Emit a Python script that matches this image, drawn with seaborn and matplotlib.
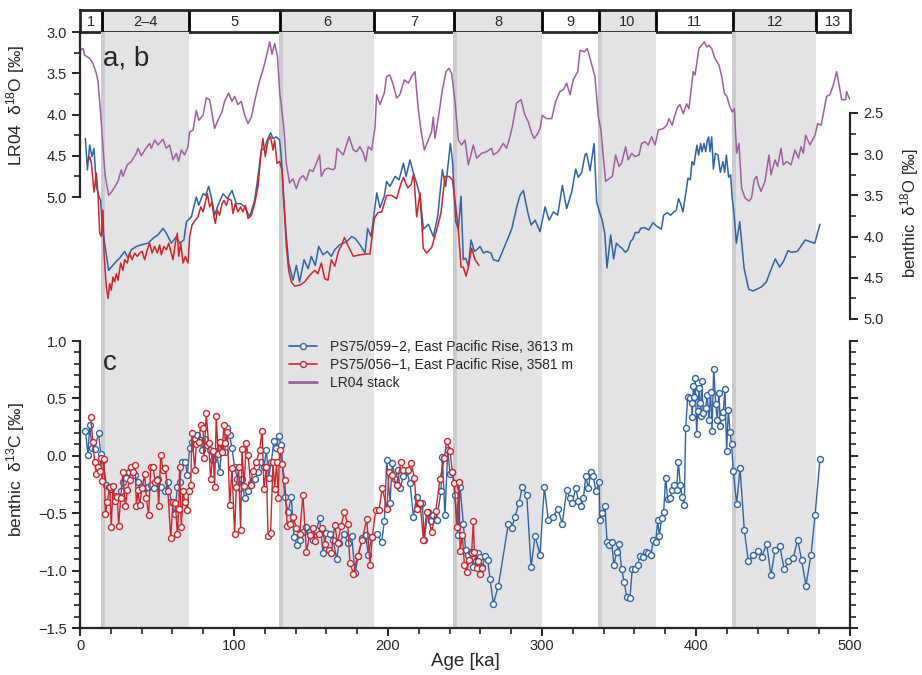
import numpy as np
import seaborn as sns
import matplotlib.pyplot as plt
from matplotlib.lines import Line2D

sns.set_style('ticks')
plt.rcParams['font.family'] = ['Liberation Sans', 'DejaVu Sans']
plt.rcParams['mathtext.fontset'] = 'custom'
plt.rcParams['mathtext.rm'] = 'Liberation Sans'
plt.rcParams['mathtext.it'] = 'Liberation Sans:italic'

# marine isotope stages
mis_bounds = [0, 14, 71, 130, 191, 243, 300, 337, 374, 424, 478, 500]
mis_labels = ['1', '2\u20134', '5', '6', '7', '8', '9', '10', '11', '12', '13']
mis_glacial = [False, True, False, True, False, True, False, True, False, True, False]

# LR04 stack (left axis, upper panel)
lr04_age = [0, 2, 3, 6.3, 8.4, 10.6, 11.7, 13.4, 15, 16.4, 18.6, 20.4, 22.5, 24.7, 26.8, 27.9, 30.7, 33.3,
            36.6, 37.7, 39.8, 42, 45.2, 46.3, 48.5, 50.6, 53.9, 56, 58.2, 60.4, 62.6, 64, 65.8, 67.9, 70.1,
            71.2, 73.4, 75.5, 77.1, 79.9, 82, 84.2, 87.4, 89.6, 92.2, 93.9, 96.5, 98.7, 100.4, 102.6, 104.7,
            107, 109.1, 111.3, 113.4, 116.7, 118.8, 121, 123.2, 124.7, 126.4, 128.2, 129.7, 130.7, 132.5,
            133.9, 136.1, 138.3, 140.5, 142.6, 144.8, 146.9, 149.1, 151.3, 153.5, 155.6, 156.7, 158.9, 161,
            164.3, 165.6, 167, 171, 174.7, 177.5, 179.6, 181.8, 184, 185.5, 187.2, 189.4, 191.6, 192.6,
            194.8, 197.6, 199.1, 201.2, 203.4, 205.6, 207.7, 210.6, 213.2, 215.3, 217.5, 219.7, 221.4,
            223.6, 226.2, 228.3, 229.4, 230.5, 233.1, 235.3, 237.7, 239.6, 241.3, 243.5, 245.7, 247.8, 250,
            252.2, 255.4, 257.6, 260.8, 264.1, 267.3, 268.4, 271.6, 274.9, 277, 279.2, 280.7, 283.5, 286.4,
            289, 291.1, 293.3, 295, 297.2, 298.7, 300.2, 303, 306.3, 308.9, 311.7, 313.9, 316, 318.2, 320.3,
            323.2, 324.7, 327.5, 329.4, 331.8, 334.4, 336.6, 338.3, 339.8, 341.3, 344.2, 345.7, 347.8, 350,
            351.7, 353.5, 354.3, 356, 358.2, 360.4, 363, 364.7, 366.9, 369, 371.2, 373.4, 375.5, 378.8, 381,
            382.5, 384.6, 385.9, 388.1, 389.6, 391.7, 393.9, 395.4, 396.7, 398.2, 399.4, 401.9, 403.7,
            405.4, 407, 408.4, 410.2, 412.3, 414.9, 416.7, 418.4, 420, 422.1, 423.6, 424.9, 426.4, 427.9,
            429.6, 431.8, 434.4, 436.1, 437.8, 439.4, 440.5, 442.2, 444.8, 447.4, 448.7, 451.3, 453, 455.2,
            456.7, 458.9, 461.7, 464.3, 466.5, 468.2, 469.7, 471.2, 474, 477.3, 479, 481.2, 482.7, 484.8,
            487, 489.2, 491.3, 492.9, 494.6, 497.2, 497.8, 499, 500]
lr04_d18o = [3.22, 3.20, 3.28, 3.32, 3.38, 3.50, 3.60, 3.99, 4.43, 4.75, 4.98, 4.94, 4.88, 4.81, 4.67, 4.75, 4.61,
             4.57, 4.47, 4.41, 4.50, 4.43, 4.35, 4.41, 4.31, 4.37, 4.30, 4.41, 4.37, 4.55, 4.47, 4.57, 4.43,
             4.49, 4.39, 4.21, 4.19, 3.95, 4.07, 4.01, 3.80, 3.82, 4.17, 4.07, 3.97, 3.84, 3.74, 3.84, 3.78,
             3.88, 3.84, 4.01, 4.11, 4.03, 3.84, 3.58, 3.46, 3.30, 3.12, 3.27, 3.14, 3.29, 3.74, 3.88, 4.19,
             4.59, 4.83, 4.78, 4.90, 4.78, 4.74, 4.80, 4.67, 4.69, 4.59, 4.49, 4.75, 4.67, 4.65, 4.67, 4.65,
             4.41, 4.49, 4.27, 4.43, 4.45, 4.39, 4.47, 4.57, 4.39, 4.43, 4.15, 3.76, 3.88, 3.74, 3.54, 3.52,
             3.64, 3.80, 3.76, 3.58, 3.62, 3.54, 3.48, 3.94, 4.19, 4.43, 4.31, 4.21, 4.03, 4.29, 3.99, 3.70,
             3.48, 3.44, 3.50, 3.84, 4.31, 4.37, 4.31, 4.61, 4.37, 4.53, 4.47, 4.45, 4.41, 4.49, 4.45, 4.35,
             4.41, 4.27, 4.15, 3.86, 3.82, 4.01, 4.09, 4.23, 4.29, 4.23, 4.17, 4.01, 4.05, 4.05, 3.84, 3.72,
             3.70, 3.62, 3.76, 3.58, 3.48, 3.22, 3.24, 3.20, 3.36, 3.54, 4.03, 4.19, 4.51, 4.81, 4.77, 4.75,
             4.49, 4.63, 4.59, 4.45, 4.39, 4.55, 4.47, 4.51, 4.49, 4.35, 4.33, 4.37, 4.27, 4.37, 4.19, 4.17,
             4.13, 4.05, 4.13, 4.03, 3.91, 3.88, 3.99, 3.87, 3.93, 3.72, 3.48, 3.52, 3.20, 3.16, 3.12, 3.18,
             3.16, 3.20, 3.32, 3.40, 3.54, 3.74, 3.78, 3.91, 3.97, 3.93, 4.47, 4.35, 4.89, 5.01, 5.05, 5.01,
             4.79, 4.75, 4.85, 4.93, 4.81, 4.49, 4.73, 4.55, 4.63, 4.41, 4.61, 4.57, 4.61, 4.43, 4.53, 4.39,
             4.47, 4.25, 4.37, 4.25, 4.11, 4.13, 3.99, 3.78, 3.76, 3.64, 3.48, 3.64, 3.82, 3.82, 3.72, 3.78,
             3.82]

# benthic d18O PS75/059-2 (right axis, upper panel)
b059_age = [3.5, 4.8, 6.3, 7.8, 9.1, 10.6, 12.1, 13.4, 14.3, 16.0, 18.6, 20.3, 23.6, 25.8, 29.0, 31.2, 33.3,
            36.6, 39.8, 44.2, 47.4, 50.6, 53.9, 56.1, 59.3, 62.6, 64.7, 67.5, 69.1, 72.3, 75.5, 77.1, 79.9,
            81.6, 83.5, 85.3, 87.4, 89.6, 92.9, 95.7, 98.7, 101.5, 104.3, 106.9, 110.2, 113.4, 115.6, 117.7,
            119.9, 121.6, 123.8, 125.3, 127.5, 129.6, 130.7, 132.5, 134.0, 135.5, 138.3, 140.5, 142.6,
            145.5, 148.1, 150.2, 152.8, 155.0, 157.8, 160.6, 163.2, 165.4, 168.6, 171.0, 173.2, 176.4,
            178.6, 181.8, 185.1, 186.8, 189.0, 191.1, 192.7, 194.8, 197.6, 199.1, 201.3, 204.6, 207.2,
            210.0, 211.7, 214.3, 216.5, 218.6, 220.8, 223.0, 226.2, 229.5, 232.3, 235.3, 237.5, 240.5,
            241.8, 244.0, 245.7, 247.4, 248.9, 250.4, 252.2, 253.9, 256.1, 257.6, 259.8, 261.9, 264.1,
            266.9, 268.4, 271.7, 280.3, 283.6, 285.7, 287.9, 290.7, 292.9, 295.5, 298.7, 302.0, 304.6,
            307.4, 310.2, 313.2, 316.0, 319.3, 321.9, 323.6, 325.8, 327.9, 329.0, 331.2, 333.8, 335.5,
            337.5, 339.1, 340.8, 342.2, 344.6, 346.5, 348.3, 350.4, 351.9, 354.1, 355.8, 357.5, 359.0,
            360.6, 362.8, 364.1, 366.7, 369.3, 372.1, 374.2, 377.5, 379.0, 381.4, 383.5, 385.7, 387.2,
            388.7, 390.0, 391.5, 393.0, 394.8, 396.3, 397.4, 398.7, 399.6, 400.6, 401.7, 403.0, 403.9,
            405.2, 406.3, 407.4, 408.2, 409.1, 410.2, 411.3, 412.5, 414.3, 415.8, 417.5, 418.6, 419.7,
            421.2, 422.5, 423.4, 424.7, 426.2, 428.4, 431.2, 434.2, 437.0, 442.5, 445.7, 448.5, 451.5,
            454.3, 457.1, 459.7, 461.9, 465.8, 468.4, 471.0, 473.8, 477.1, 480.5]
b059_d18o = [2.81, 3.19, 2.89, 3.03, 2.93, 3.39, 3.50, 3.56, 3.84, 4.08, 4.41, 4.37, 4.30, 4.26, 4.18, 4.26,
             4.16, 4.12, 4.10, 4.08, 4.02, 3.98, 3.90, 3.96, 4.08, 4.00, 4.08, 4.04, 3.82, 3.76, 3.52, 3.62,
             3.48, 3.50, 3.39, 3.52, 3.74, 3.62, 3.48, 3.54, 3.44, 3.60, 3.60, 3.64, 3.76, 3.56, 3.27, 2.95,
             2.93, 2.83, 2.74, 2.81, 2.79, 2.83, 3.03, 3.60, 4.00, 4.32, 4.53, 4.35, 4.55, 4.28, 4.39, 4.24,
             4.35, 4.12, 4.22, 4.18, 4.24, 4.16, 4.10, 4.08, 4.06, 4.00, 4.02, 4.10, 4.20, 3.90, 4.00, 3.70,
             3.47, 3.65, 3.51, 3.33, 3.39, 3.27, 3.31, 3.11, 3.27, 3.07, 3.23, 3.35, 3.51, 3.91, 3.85, 4.00,
             3.75, 3.19, 3.39, 2.87, 3.07, 3.82, 3.91, 3.51, 4.28, 4.26, 4.36, 4.04, 4.18, 4.16, 4.12, 4.20,
             4.18, 4.20, 4.28, 4.30, 3.91, 3.64, 3.50, 3.44, 3.70, 3.86, 3.80, 3.94, 3.64, 3.80, 3.70, 3.74,
             3.38, 3.66, 3.46, 3.18, 3.28, 3.22, 3.01, 2.99, 3.20, 2.87, 3.58, 3.71, 3.80, 3.97, 4.38, 3.98,
             4.27, 4.08, 4.12, 4.14, 4.19, 4.16, 4.06, 4.03, 3.95, 3.95, 3.90, 3.89, 3.92, 3.83, 3.87, 3.91,
             3.74, 3.71, 3.74, 3.70, 3.68, 3.54, 3.60, 3.70, 3.52, 3.29, 3.31, 3.09, 3.13, 3.01, 2.89, 3.01,
             2.87, 2.97, 2.87, 2.97, 2.83, 2.79, 2.97, 2.79, 3.18, 2.99, 3.01, 3.22, 3.09, 3.22, 3.01, 3.28,
             3.25, 3.52, 3.72, 4.08, 3.82, 4.38, 4.64, 4.66, 4.61, 4.55, 4.41, 4.27, 4.37, 4.29, 4.17, 4.19,
             4.18, 4.11, 4.04, 4.06, 4.08, 3.85]

# benthic d18O PS75/056-1 (right axis, upper panel)
b056_age = [4.8, 6.3, 7.4, 9.1, 10.6, 11.7, 12.8, 13.9, 14.9, 15.6, 17.1, 18.2, 19.3, 20.3, 21.4, 22.5, 23.6,
            24.7, 26.4, 27.9, 29.0, 30.7, 32.2, 33.8, 35.5, 37.2, 38.7, 40.3, 42.0, 43.7, 45.2, 46.8, 48.5,
            50.2, 51.7, 52.8, 54.5, 56.1, 57.6, 59.3, 60.4, 61.9, 63.2, 64.1, 65.4, 66.9, 68.4, 70.1, 71.2,
            72.7, 74.9, 76.6, 78.4, 79.9, 81.4, 82.7, 84.2, 85.7, 87.0, 87.9, 89.2, 90.7, 92.2, 93.5, 95.0,
            96.5, 98.3, 99.3, 100.9, 102.6, 104.3, 105.8, 107.4, 109.1, 111.3, 113.4, 115.6, 117.3, 118.8,
            120.3, 122.1, 123.8, 125.3, 126.4, 127.9, 129.6, 131.2, 132.9, 134.0, 135.5, 137.2, 139.4,
            142.6, 145.9, 149.1, 152.4, 154.5, 156.7, 158.9, 161.0, 163.2, 165.4, 167.8, 169.5, 171.7,
            173.8, 177.5, 181.8, 187.2, 188.3, 191.1, 193.3, 195.9, 199.1, 202.4, 205.6, 208.5, 210.0,
            212.8, 215.0, 216.7, 218.6, 220.8, 222.9, 225.1, 228.4, 231.6, 234.4, 237.0, 239.6, 241.8,
            244.0, 245.7, 247.4, 248.9, 250.7, 252.2, 254.3, 256.5, 259.1]
b056_d18o = [3.09, 3.03, 3.11, 3.46, 3.23, 3.48, 3.96, 4.00, 3.68, 4.20, 4.61, 4.75, 4.57, 4.65, 4.49, 4.55,
             4.45, 4.53, 4.32, 4.41, 4.28, 4.32, 4.20, 4.28, 4.20, 4.24, 4.20, 4.18, 4.28, 4.16, 4.08, 4.20,
             4.12, 4.20, 4.10, 4.22, 4.12, 4.16, 4.08, 4.20, 4.28, 4.08, 3.96, 4.24, 4.08, 4.32, 4.24, 4.32,
             4.00, 3.86, 3.80, 3.76, 3.64, 3.70, 3.58, 3.48, 3.64, 3.58, 3.76, 3.84, 3.68, 3.74, 3.60, 3.56,
             3.62, 3.54, 3.56, 3.72, 3.60, 3.70, 3.64, 3.70, 3.62, 3.78, 3.74, 3.60, 3.39, 3.03, 2.81, 3.03,
             2.83, 2.79, 2.95, 2.83, 3.11, 3.09, 3.19, 3.76, 4.12, 4.41, 4.55, 4.60, 4.59, 4.55, 4.47, 4.41,
             4.45, 4.32, 4.51, 4.53, 4.28, 4.36, 4.18, 4.12, 4.01, 4.10, 4.24, 4.22, 4.21, 4.21, 3.78, 3.71,
             3.70, 3.50, 3.50, 3.54, 3.35, 3.28, 3.41, 3.37, 3.24, 3.76, 3.47, 4.14, 4.20, 4.13, 3.92, 3.71,
             3.27, 3.27, 3.31, 3.64, 3.92, 4.37, 4.37, 4.48, 4.37, 4.14, 4.28, 4.35]

# benthic d13C PS75/059-2 (lower panel)
c059_age = [3.5, 5.2, 6.3, 7.8, 9.5, 12.1, 13.4, 14.9, 17.1, 18.6, 20.3, 22.5, 24.7, 26.4, 27.9, 30.1, 31.6,
            33.3, 35.5, 37.7, 39.8, 42.0, 44.2, 46.3, 48.1, 50.6, 52.8, 55.0, 57.1, 59.3, 61.5, 63.2, 64.7,
            66.2, 68.4, 69.7, 71.2, 72.7, 74.9, 76.2, 77.7, 79.2, 81.0, 82.7, 84.2, 86.4, 88.5, 90.7, 92.2,
            93.9, 95.7, 97.2, 98.7, 100.4, 102.2, 103.7, 105.2, 106.9, 109.1, 111.3, 113.4, 115.6, 117.7,
            119.5, 121.0, 122.5, 124.2, 126.0, 127.5, 129.0, 130.7, 132.9, 135.1, 137.2, 139.0, 141.1,
            142.6, 144.8, 147.0, 149.1, 151.3, 153.5, 155.6, 157.8, 160.0, 162.1, 164.3, 166.7, 168.2,
            171.7, 173.8, 176.4, 178.6, 180.8, 183.3, 185.5, 187.2, 189.4, 192.7, 195.9, 197.6, 199.2,
            201.3, 202.8, 204.6, 206.3, 207.8, 210.0, 212.1, 214.3, 216.5, 218.6, 220.8, 222.3, 223.6,
            225.8, 227.9, 229.5, 231.6, 234.4, 235.3, 237.0, 238.8, 240.3, 241.8, 243.5, 245.3, 246.8,
            248.9, 250.4, 252.2, 253.9, 255.4, 256.9, 258.2, 259.8, 261.3, 263.0, 264.7, 266.3, 268.4,
            271.7, 278.2, 280.3, 282.5, 285.1, 287.2, 290.1, 292.9, 295.5, 298.7, 301.5, 304.1, 307.4,
            310.2, 313.2, 316.0, 318.2, 319.7, 321.9, 323.6, 325.3, 326.9, 328.4, 330.1, 331.8, 333.4,
            334.9, 337.0, 337.7, 339.2, 340.9, 342.2, 343.5, 345.2, 346.7, 348.5, 350.0, 351.7, 353.4,
            355.0, 357.1, 358.6, 360.4, 362.1, 363.6, 365.8, 367.3, 369.0, 370.8, 372.3, 373.8, 375.1,
            376.2, 377.7, 379.0, 380.3, 381.6, 383.1, 384.6, 385.9, 387.4, 388.5, 389.8, 391.1, 392.4,
            393.3, 394.6, 396.1, 397.2, 397.6, 398.3, 398.9, 399.5, 400.4, 401.1, 401.9, 402.6, 403.2,
            403.7, 404.7, 406.3, 407.3, 408.4, 409.5, 410.4, 411.5, 412.8, 413.8, 414.9, 415.8, 416.7,
            417.7, 418.8, 419.9, 421.0, 422.1, 423.1, 424.2, 426.4, 428.6, 431.4, 434.0, 437.2, 440.0,
            442.6, 445.9, 448.7, 451.3, 454.5, 457.3, 460.0, 463.2, 466.0, 468.6, 471.4, 474.7, 477.3,
            480.5]
c059_d13c = [0.22, 0.01, 0.27, 0.065, 0.06, 0.20, 0.02, -0.04, -0.25, -0.27, -0.29, -0.35, -0.36, -0.31,
             -0.23, -0.19, -0.14, -0.11, -0.17, -0.23, -0.27, -0.28, -0.27, -0.25, -0.28, -0.20, -0.27,
             -0.31, -0.23, -0.40, -0.51, -0.27, -0.23, -0.05, -0.05, -0.17, 0.07, 0.12, 0.15, 0.18, 0.14,
             0.05, 0.15, 0.09, 0.05, -0.04, 0.04, -0.14, 0.11, 0.03, 0.24, 0.18, 0.065, -0.10, -0.20, -0.28,
             -0.20, -0.37, -0.31, -0.24, -0.20, -0.14, -0.05, -0.10, 0.05, -0.19, -0.05, 0.13, 0.065, 0.175,
             0.09, -0.36, -0.49, -0.36, -0.71, -0.78, -0.73, -0.66, -0.62, -0.66, -0.73, -0.65, -0.54,
             -0.85, -0.67, -0.68, -0.73, -0.90, -0.76, -0.68, -0.76, -0.70, -1.02, -0.87, -0.72, -0.69,
             -0.86, -0.71, -0.68, -0.75, -0.57, -0.04, -0.41, -0.06, -0.20, -0.12, -0.28, -0.18, -0.13,
             -0.24, -0.53, -0.36, -0.43, -0.41, -0.73, -0.49, -0.57, -0.52, -0.56, -0.31, -0.01, -0.52,
             0.05, -0.16, -0.14, -0.34, -0.69, -0.27, -0.59, -0.82, -0.86, -0.84, -0.97, -0.92, -0.85,
             -0.88, -0.97, -0.87, -0.91, -1.07, -1.29, -1.13, -0.59, -0.63, -0.53, -0.41, -0.27, -0.34,
             -0.97, -0.70, -0.86, -0.27, -0.56, -0.53, -0.46, -0.59, -0.30, -0.37, -0.41, -0.28, -0.39,
             -0.44, -0.37, -0.18, -0.28, -0.14, -0.18, -0.31, -0.23, -0.56, -0.50, -0.44, -0.75, -0.78,
             -0.75, -0.95, -0.84, -0.77, -0.99, -1.10, -1.23, -1.24, -0.99, -0.99, -0.95, -0.87, -0.88,
             -0.84, -0.85, -0.86, -0.73, -0.75, -0.56, -0.70, -0.54, -0.49, -0.19, -0.38, -0.37, -0.30,
             -0.25, -0.30, -0.05, -0.25, -0.36, -0.43, 0.24, 0.51, 0.50, 0.46, 0.34, 0.61, 0.51, 0.68, 0.19,
             0.39, 0.59, 0.46, 0.35, 0.65, 0.37, 0.42, 0.53, 0.31, 0.56, 0.22, 0.76, 0.45, 0.31, 0.55, 0.26,
             0.34, 0.38, 0.58, 0.04, 0.40, 0.21, 0.10, -0.13, -0.42, -0.11, -0.65, -0.92, -0.86, -0.83,
             -0.88, -0.77, -1.04, -0.82, -0.79, -0.99, -0.92, -0.89, -0.73, -0.91, -1.13, -0.86, -0.52,
             -0.03]

# benthic d13C PS75/056-1 (lower panel)
c056_age = [6.9, 8.4, 9.5, 10.6, 11.7, 12.8, 13.4, 14.3, 15.6, 16.5, 17.7, 19.3, 20.3, 21.4, 22.5, 24.2, 25.1,
            26.4, 27.9, 29.4, 30.7, 32.2, 33.3, 34.4, 35.9, 36.6, 37.7, 38.7, 40.3, 42.0, 43.1, 44.6, 45.9,
            47.4, 48.9, 50.2, 51.1, 52.4, 53.9, 55.4, 57.1, 58.9, 60.4, 61.9, 63.2, 64.1, 64.7, 65.8, 66.9,
            68.0, 69.7, 70.6, 71.9, 72.7, 74.5, 75.5, 77.1, 78.4, 79.9, 80.5, 82.0, 83.5, 84.8, 86.4, 87.4,
            88.5, 89.6, 90.7, 92.2, 93.5, 94.4, 95.7, 97.2, 98.7, 100.4, 101.5, 103.0, 104.3, 105.2, 106.5,
            108.0, 109.1, 110.8, 112.3, 114.5, 116.7, 118.2, 119.5, 121.0, 122.1, 123.8, 125.3, 126.4,
            127.7, 128.6, 129.6, 131.2, 132.9, 134.6, 136.1, 138.3, 140.5, 142.6, 144.8, 147.0, 149.1,
            151.3, 152.8, 155.0, 157.1, 159.3, 161.5, 163.2, 165.4, 167.3, 169.5, 171.7, 173.8, 175.3,
            177.5, 180.3, 183.3, 186.2, 188.3, 189.8, 192.0, 194.2, 196.3, 199.2, 200.7, 202.8, 205.6,
            208.5, 210.0, 212.8, 215.0, 217.1, 218.6, 220.8, 223.0, 225.1, 228.4, 231.0, 233.8, 236.6,
            238.1, 240.3, 241.8, 243.1, 244.6, 246.1, 246.8, 248.3, 249.6, 251.1, 252.6, 254.3, 255.4,
            256.1, 257.6, 258.7, 259.8, 260.8]
c056_d13c = [0.34, 0.12, -0.05, -0.16, -0.10, -0.13, -0.02, -0.22, -0.03, -0.51, -0.40, -0.27, -0.62, -0.26,
             -0.39, -0.36, -0.61, -0.37, -0.14, -0.44, -0.30, -0.21, -0.10, -0.14, -0.08, -0.44, -0.30,
             -0.43, -0.28, -0.16, -0.37, -0.52, -0.10, -0.10, -0.23, -0.21, -0.44, 0.01, -0.12, -0.11,
             -0.31, -0.72, -0.40, -0.41, -0.68, -0.46, -0.10, -0.62, -0.31, -0.40, -0.47, -0.31, -0.25,
             0.20, -0.12, 0.10, 0.12, 0.27, 0.24, -0.02, 0.37, 0.11, -0.20, 0.04, -0.27, 0.35, 0.02, 0.12,
             0.03, 0.27, 0.11, 0.21, -0.43, -0.11, -0.68, -0.27, -0.10, -0.65, 0.06, -0.26, 0.11, 0.01,
             -0.25, -0.13, -0.05, 0.05, 0.22, -0.29, -0.10, -0.70, -0.67, -0.05, -0.29, -0.05, -0.37, 0.05,
             -0.07, -0.21, -0.61, -0.59, -0.53, -0.63, -0.68, -0.34, -0.84, -0.69, -0.63, -0.74, -0.68,
             -0.63, -0.77, -0.82, -0.85, -0.60, -0.76, -0.61, -0.49, -0.59, -0.93, -1.03, -0.87, -0.73,
             -0.55, -0.95, -0.71, -0.47, -0.47, -0.28, -0.46, -0.14, -0.17, -0.25, -0.05, -0.12, -0.12,
             -0.06, -0.19, -0.46, -0.41, -0.73, -0.49, -0.66, -0.48, -0.20, -0.02, 0.13, 0.04, -0.14, -0.24,
             -0.62, -0.23, -0.83, -0.69, -0.95, -1.01, -0.91, -0.85, -0.57, -0.84, -0.98, -0.92, -1.03,
             -0.98]

blue = '#2f64a5'
red = '#d1252c'
purple = '#a05fa0'
shade = '#e3e3e6'
shade_dark = '#cbcbd0'

fig = plt.figure(figsize=(9.22, 6.75), dpi=100)
L, W = 80 / 922, 770 / 922
ax_mis = fig.add_axes([L, 1 - 32 / 675, W, 22 / 675])
ax_top = fig.add_axes([L, 1 - 320 / 675, W, 288 / 675])
ax_bot = fig.add_axes([L, 1 - 628 / 675, W, 308 / 675])
ax_top.patch.set_visible(False)

# stage shading
for i, lab in enumerate(mis_labels):
    a, b = mis_bounds[i], mis_bounds[i + 1]
    if mis_glacial[i]:
        ax_mis.axvspan(a, b, color=shade, lw=0)
        for ax in (ax_top, ax_bot):
            ax.axvspan(a, b, color=shade, lw=0, zorder=0)
            ax.axvspan(a - 0.6, a + 2.0, color=shade_dark, lw=0, zorder=0)
    if i > 0:
        ax_mis.axvline(a, color='k', lw=2)
    ax_mis.text((a + b) / 2, 0.45, lab, ha='center', va='center', fontsize=10.5)

ax_mis.set_xlim(0, 500)
ax_mis.set_ylim(0, 1)
ax_mis.set_xticks([])
ax_mis.set_yticks([])
for s in ax_mis.spines.values():
    s.set_linewidth(2)

# upper panel
sns.lineplot(x=lr04_age, y=lr04_d18o, ax=ax_top, color=purple, lw=1.1, estimator=None, sort=False)
ax_top.set_xlim(0, 500)
ax_top.set_ylim(3.0 + 288 / 82.5, 3.0)
ax_top.set_yticks(np.arange(3.0, 5.01, 0.5))
ax_top.set_yticks(np.arange(3.0, 5.01, 0.25), minor=True)
ax_top.set_xticks([])
for s in ['top', 'bottom', 'right']:
    ax_top.spines[s].set_visible(False)
ax_top.spines['left'].set_bounds(3.0, 5.0)
ax_top.spines['left'].set_linewidth(1.6)
ax_top.tick_params(axis='y', which='major', length=6, width=1.4, labelsize=10.5, direction='out')
ax_top.tick_params(axis='y', which='minor', length=4, width=1.2, direction='out')
ax_top.set_ylabel('LR04  δ$^{18}$O [‰]', fontsize=12.5)
ax_top.yaxis.set_label_coords(-0.069, 0.745)
ax_top.text(0.030, 0.882, 'a, b', transform=ax_top.transAxes, fontsize=20, va='baseline')

ax_r = ax_top.twinx()
sns.lineplot(x=b059_age, y=b059_d18o, ax=ax_r, color=blue, lw=1.1, estimator=None, sort=False)
sns.lineplot(x=b056_age, y=b056_d18o, ax=ax_r, color=red, lw=1.1, estimator=None, sort=False)
ax_r.set_xlim(0, 500)
ax_r.set_ylim(2.5 + 207 / 82.4, 2.5 - 81 / 82.4)
ax_r.set_yticks(np.arange(2.5, 5.01, 0.5))
ax_r.set_yticks(np.arange(2.5, 5.01, 0.25), minor=True)
for s in ['top', 'bottom', 'left']:
    ax_r.spines[s].set_visible(False)
ax_r.spines['right'].set_bounds(2.5, 5.0)
ax_r.spines['right'].set_linewidth(1.6)
ax_r.tick_params(axis='y', which='major', length=6, width=1.4, labelsize=10.5, direction='out')
ax_r.tick_params(axis='y', which='minor', length=4, width=1.2, direction='out')
ax_r.set_ylabel('benthic  δ$^{18}$O [‰]', fontsize=12)
ax_r.yaxis.set_label_coords(1.062, 0.372)

# lower panel
mk = dict(marker='o', markersize=4.3, markerfacecolor='white', markeredgewidth=1.0)
sns.lineplot(x=c059_age, y=c059_d13c, ax=ax_bot, color=blue, lw=1.0, estimator=None, sort=False,
             markeredgecolor=blue, **mk)
sns.lineplot(x=c056_age, y=c056_d13c, ax=ax_bot, color=red, lw=1.0, estimator=None, sort=False,
             markeredgecolor=red, **mk)
ax_bot.set_xlim(0, 500)
ax_bot.set_ylim(-1.5, 1.0 + 21 / 114.8)
ax_bot.set_xticks(np.arange(0, 501, 100))
ax_bot.set_xticks(np.arange(0, 501, 20), minor=True)
ax_bot.set_yticks(np.arange(-1.5, 1.01, 0.5))
ax_bot.set_yticks(np.arange(-1.5, 1.01, 0.1), minor=True)
ax_bot.spines['top'].set_visible(False)
for s in ['left', 'right']:
    ax_bot.spines[s].set_bounds(-1.5, 1.0)
for s in ['left', 'right', 'bottom']:
    ax_bot.spines[s].set_linewidth(1.6)
ax_bot.tick_params(axis='both', which='major', length=6, width=1.4, labelsize=10.5, direction='out')
ax_bot.tick_params(axis='both', which='minor', length=4, width=1.2, direction='out')
ax_bot.tick_params(axis='x', which='major', pad=2)
ax_bot.tick_params(axis='y', which='both', right=True, labelright=False)
ax_bot.set_ylabel('benthic  δ$^{13}$C [‰]', fontsize=12.5)
ax_bot.yaxis.set_label_coords(-0.069, 0.513)
ax_bot.set_xlabel('Age [ka]', fontsize=13.5, labelpad=0)
ax_bot.text(0.030, 0.838, 'c', transform=ax_bot.transAxes, fontsize=20, va='baseline')

handles = [Line2D([], [], color=blue, lw=1.2, markeredgecolor=blue, **mk),
           Line2D([], [], color=red, lw=1.2, markeredgecolor=red, **mk),
           Line2D([], [], color=purple, lw=2)]
labels = ['PS75/059\u22122, East Pacific Rise, 3613 m',
          'PS75/056\u22121, East Pacific Rise, 3581 m',
          'LR04 stack']
ax_bot.legend(handles, labels, loc='upper left', bbox_to_anchor=(0.272, 0.935), frameon=False,
              fontsize=10, handlelength=2.0, handletextpad=0.9, labelspacing=0.3,
              borderaxespad=0, borderpad=0, numpoints=1)

fig.savefig('out.png', dpi=100)
